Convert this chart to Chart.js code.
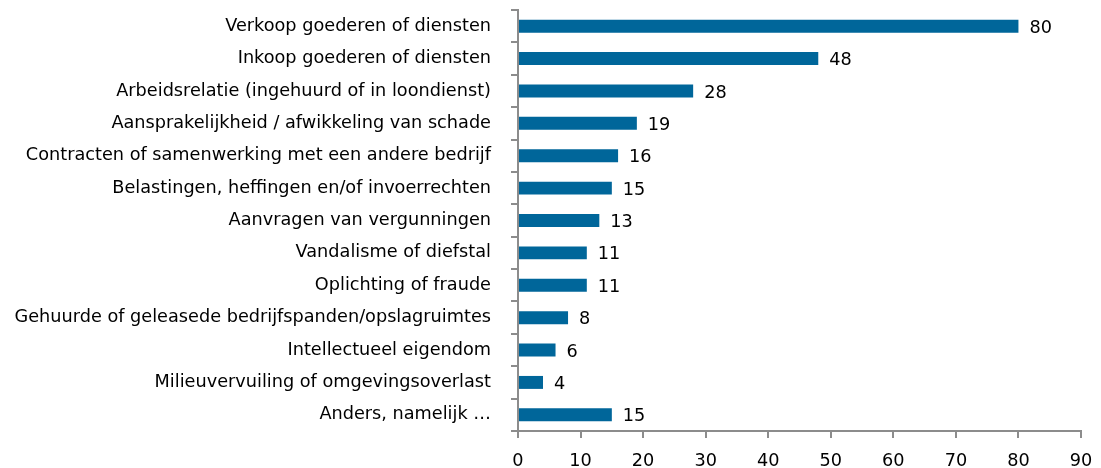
<!DOCTYPE html>
<html>
<head>
<meta charset="utf-8">
<script src="https://cdn.jsdelivr.net/npm/chart.js@4/dist/chart.umd.min.js"></script>
<style>
  html, body { margin: 0; padding: 0; background: #fff; }
  #wrap { width: 1101px; height: 468px; }
</style>
</head>
<body>
<div id="wrap"><canvas id="chart"></canvas></div>
<script>
const categories = [
    'Verkoop goederen of diensten',
    'Inkoop goederen of diensten',
    'Arbeidsrelatie (ingehuurd of in loondienst)',
    'Aansprakelijkheid / afwikkeling van schade',
    'Contracten of samenwerking met een andere bedrijf',
    'Belastingen, heffingen en/of invoerrechten',
    'Aanvragen van vergunningen',
    'Vandalisme of diefstal',
    'Oplichting of fraude',
    'Gehuurde of geleasede bedrijfspanden/opslagruimtes',
    'Intellectueel eigendom',
    'Milieuvervuiling of omgevingsoverlast',
    'Anders, namelijk \u2026'
];
const values = [80, 48, 28, 19, 16, 15, 13, 11, 11, 8, 6, 4, 15];
const xMin = 0;
const xMax = 90;
const xStep = 10;

const barColor = '#00669a';
const axisColor = '#8c8c8c';
const fontFamily = '"DejaVu Sans", Verdana, sans-serif';
const fontSize = 17.7;

// value next to the end of each bar
const valueLabels = {
    id: 'valueLabels',
    afterDatasetsDraw(chart) {
        const ctx = chart.ctx;
        const meta = chart.getDatasetMeta(0);
        ctx.save();
        ctx.font = fontSize + 'px ' + fontFamily;
        ctx.fillStyle = '#000';
        ctx.textAlign = 'left';
        ctx.textBaseline = 'middle';
        meta.data.forEach((bar, i) => {
            ctx.fillText(values[i], bar.x + 11, bar.y + 2);
        });
        ctx.restore();
    }
};

(() => {
    let ctx = document.getElementById('chart').getContext('2d');
    new Chart(ctx, {
        type: 'bar',
        data: {
            labels: categories,
            datasets: [{
                data: values,
                backgroundColor: barColor,
                borderWidth: 0,
                categoryPercentage: 0.8,
                barPercentage: 0.5
            }]
        },
        plugins: [valueLabels],
        options: {
            indexAxis: 'y',
            responsive: true,
            maintainAspectRatio: false,
            animation: false,
            layout: { padding: { top: 10, right: 20, bottom: 0, left: 0 } },
            plugins: {
                legend: { display: false },
                tooltip: { enabled: false }
            },
            scales: {
                y: {
                    offset: true,
                    afterFit: (scale) => {
                        scale.width = 518;
                        scale.paddingTop = 0;
                        scale.paddingBottom = 0;
                    },
                    grid: {
                        offset: true,
                        drawOnChartArea: false,
                        drawTicks: true,
                        tickLength: 7,
                        color: axisColor,
                        lineWidth: 2
                    },
                    border: { color: axisColor, width: 2 },
                    ticks: {
                        color: '#000',
                        padding: 20,
                        font: { family: fontFamily, size: fontSize }
                    }
                },
                x: {
                    min: xMin,
                    max: xMax,
                    afterFit: (scale) => {
                        scale.height = 37;
                        scale.paddingLeft = 0;
                        scale.paddingRight = 0;
                    },
                    grid: {
                        drawOnChartArea: false,
                        drawTicks: true,
                        tickLength: 7,
                        color: axisColor,
                        lineWidth: 2
                    },
                    border: { color: axisColor, width: 2 },
                    ticks: {
                        stepSize: xStep,
                        color: '#000',
                        padding: 13,
                        maxRotation: 0,
                        font: { family: fontFamily, size: fontSize }
                    }
                }
            }
        }
    });
})();
</script>
</body>
</html>
